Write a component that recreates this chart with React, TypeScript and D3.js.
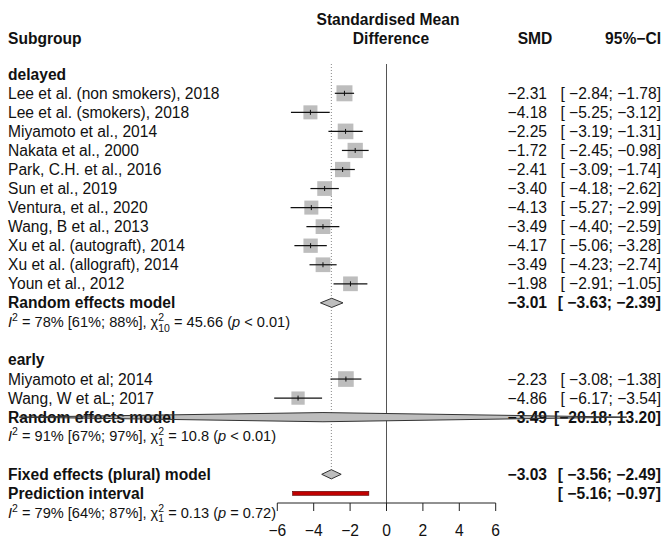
import React from "react";
import * as d3 from "d3";

// study level data
const groups = ["delayed", "early"];
const studyNames = [
  "Lee et al. (non smokers), 2018",
  "Lee et al. (smokers), 2018",
  "Miyamoto et al., 2014",
  "Nakata et al., 2000",
  "Park, C.H. et al., 2016",
  "Sun et al., 2019",
  "Ventura, et al., 2020",
  "Wang, B et al., 2013",
  "Xu et al. (autograft), 2014",
  "Xu et al. (allograft), 2014",
  "Youn et al., 2012",
  "Miyamoto et al; 2014",
  "Wang, W et aL; 2017",
];
const studyGroup = [0, 0, 0, 0, 0, 0, 0, 0, 0, 0, 0, 1, 1];
const smd = [-2.31, -4.18, -2.25, -1.72, -2.41, -3.4, -4.13, -3.49, -4.17, -3.49, -1.98, -2.23, -4.86];
const ciLow = [-2.84, -5.25, -3.19, -2.45, -3.09, -4.18, -5.27, -4.4, -5.06, -4.23, -2.91, -3.08, -6.17];
const ciHigh = [-1.78, -3.12, -1.31, -0.98, -1.74, -2.62, -2.99, -2.59, -3.28, -2.74, -1.05, -1.38, -3.54];
const weights = [9.0, 6.9, 8.6, 8.2, 8.2, 7.6, 6.9, 7.6, 7.2, 7.6, 7.6, 8.6, 6.2];

// subgroup random effects
const groupEst = [-3.01, -3.49];
const groupLow = [-3.63, -20.18];
const groupHigh = [-2.39, 13.2];
const groupI2 = [78, 91];
const groupI2Low = [61, 67];
const groupI2High = [88, 97];
const groupChi = ["45.66", "10.8"];
const groupDf = [10, 1];
const groupP = ["< 0.01", "< 0.01"];

// overall
const fixedEst = -3.03;
const fixedLow = -3.56;
const fixedHigh = -2.49;
const predLow = -5.16;
const predHigh = -0.97;
const overallHet = { i2: 79, lo: 64, hi: 87, chi: "0.13", df: 1, p: "= 0.72" };

const axisTicks = [-6, -4, -2, 0, 2, 4, 6];

const W = 662;
const H = 539;
const FONT = "'Liberation Sans', Arial, sans-serif";
const fs = 15.6;

const x = d3.scaleLinear().domain([-6, 6]).range([277.3, 495.7]);
const side = d3.scaleSqrt().domain([0, 9]).range([0, 16]);
const rowY = (r: number) => 74.25 + 19.05 * r;
const f2 = (v: number) => d3.format(".2f")(v).replace("-", "\u2212");

const lowWidth = d3.max([...ciLow, ...groupLow, fixedLow, predLow], (v) => d3.format(".2f")(v).length) as number;
const ci = (lo: number, hi: number) => {
  const a = d3.format(".2f")(lo).padStart(lowWidth, " ");
  return "[" + a.replace("-", "\u2212") + "; " + f2(hi) + "]";
};

const smdX = 547;
const ciX = 661;
const axisY = 503;
const DH = 4.6;

function Het({ y, i2, lo, hi, chi, df, p }: any) {
  return (
    <text x={8} y={y} dy="0.35em" fontSize={14.6} fill="#111">
      <tspan fontStyle="italic">I</tspan>
      <tspan dy={-6} fontSize={10.5}>2</tspan>
      <tspan dy={6}>{` = ${i2}% [${lo}%; ${hi}%], \u03c7`}</tspan>
      <tspan dy={-6} fontSize={10.5}>2</tspan>
      <tspan dx={-5.8} dy={10.5} fontSize={10.5}>{df}</tspan>
      <tspan dy={-4.5}>{` = ${chi} (`}</tspan>
      <tspan fontStyle="italic">p</tspan>
      <tspan>{` ${p})`}</tspan>
    </text>
  );
}

const diamondPath = (y: number, est: number, lo: number, hi: number) =>
  `M${x(lo)},${y} L${x(est)},${y - DH} L${x(hi)},${y} L${x(est)},${y + DH} Z`;

export default function App() {
  const items: React.ReactNode[] = [];
  const marks: React.ReactNode[] = [];
  const fills: React.ReactNode[] = [];
  let r = 0;
  groups.forEach((g, gi) => {
    items.push(
      <text key={`g${gi}`} x={8} y={rowY(r)} dy="0.35em" fontWeight="bold">
        {g}
      </text>
    );
    r++;
    studyNames.forEach((name, i) => {
      if (studyGroup[i] !== gi) return;
      const y = rowY(r);
      const s = side(weights[i]);
      items.push(
        <g key={`s${i}`}>
          <text x={8} y={y} dy="0.35em">{name}</text>
          <text x={smdX} y={y} dy="0.35em" textAnchor="end">{f2(smd[i])}</text>
          <text x={ciX} y={y} dy="0.35em" textAnchor="end" style={{ whiteSpace: "pre" }}>
            {ci(ciLow[i], ciHigh[i])}
          </text>
        </g>
      );
      marks.push(
        <g key={`m${i}`}>
          <rect x={x(smd[i]) - s / 2} y={y - s / 2} width={s} height={s} fill="#bdbdbd" />
          <line x1={x(ciLow[i])} x2={x(ciHigh[i])} y1={y} y2={y} stroke="#111" strokeWidth={1.2} />
          <line x1={x(smd[i])} x2={x(smd[i])} y1={y - 2.5} y2={y + 2.5} stroke="#111" strokeWidth={1} />
        </g>
      );
      r++;
    });
    const ry = rowY(r);
    items.push(
      <g key={`re${gi}`} fontWeight="bold">
        <text x={8} y={ry} dy="0.35em">Random effects model</text>
        <text x={smdX} y={ry} dy="0.35em" textAnchor="end">{f2(groupEst[gi])}</text>
        <text x={ciX} y={ry} dy="0.35em" textAnchor="end" style={{ whiteSpace: "pre" }}>
          {ci(groupLow[gi], groupHigh[gi])}
        </text>
      </g>
    );
    const dp = diamondPath(ry, groupEst[gi], groupLow[gi], groupHigh[gi]);
    fills.push(<path key={`df${gi}`} d={dp} fill="#bdbdbd" />);
    marks.push(<path key={`d${gi}`} d={dp} fill="none" stroke="#333" strokeWidth={1} />);
    r++;
    items.push(
      <Het
        key={`h${gi}`}
        y={rowY(r)}
        i2={groupI2[gi]}
        lo={groupI2Low[gi]}
        hi={groupI2High[gi]}
        chi={groupChi[gi]}
        df={groupDf[gi]}
        p={groupP[gi]}
      />
    );
    r += 2;
  });
  const fy = rowY(r);
  const py = rowY(r + 1);
  const hy = rowY(r + 2);

  return (
    <svg
      width={W}
      height={H}
      style={{ position: "absolute", left: 0, top: 0, background: "#fff" }}
      fontFamily={FONT}
      fontSize={fs}
      fill="#111"
    >
      {/* headers */}
      <g fontWeight="bold">
        <text x={8} y={39} dy="0.35em">Subgroup</text>
        <text x={388} y={20} dy="0.35em" textAnchor="middle">Standardised Mean</text>
        <text x={391} y={39} dy="0.35em" textAnchor="middle">Difference</text>
        <text x={535} y={39} dy="0.35em" textAnchor="middle">SMD</text>
        <text x={ciX} y={39} dy="0.35em" textAnchor="end">{"95%\u2212CI"}</text>
      </g>

      {/* reference lines */}
      <line x1={x(0)} x2={x(0)} y1={64} y2={axisY} stroke="#555" strokeWidth={1} />
      <line
        x1={x(fixedEst)}
        x2={x(fixedEst)}
        y1={64}
        y2={fy - DH}
        stroke="#888"
        strokeWidth={1}
        strokeDasharray="1,2"
      />

      {fills}
      {items}
      {marks}

      {/* overall */}
      <g fontWeight="bold">
        <text x={8} y={fy} dy="0.35em">Fixed effects (plural) model</text>
        <text x={smdX} y={fy} dy="0.35em" textAnchor="end">{f2(fixedEst)}</text>
        <text x={ciX} y={fy} dy="0.35em" textAnchor="end" style={{ whiteSpace: "pre" }}>
          {ci(fixedLow, fixedHigh)}
        </text>
        <text x={8} y={py} dy="0.35em">Prediction interval</text>
        <text x={ciX} y={py} dy="0.35em" textAnchor="end" style={{ whiteSpace: "pre" }}>
          {ci(predLow, predHigh)}
        </text>
      </g>
      <path d={diamondPath(fy, fixedEst, fixedLow, fixedHigh)} fill="#bdbdbd" stroke="#333" strokeWidth={1} />
      <rect x={x(predLow)} y={py - 2} width={x(predHigh) - x(predLow)} height={4} fill="#c00000" stroke="#500" strokeWidth={0.6} />
      <Het y={hy} {...overallHet} />

      {/* axis */}
      <line x1={x(-6)} x2={x(6)} y1={axisY} y2={axisY} stroke="#222" />
      {axisTicks.map((t) => (
        <g key={t}>
          <line x1={x(t)} x2={x(t)} y1={axisY} y2={axisY + 8} stroke="#222" />
          <text x={x(t)} y={531} dy="0.35em" textAnchor="middle">
            {f2(t).replace(".00", "")}
          </text>
        </g>
      ))}
    </svg>
  );
}
